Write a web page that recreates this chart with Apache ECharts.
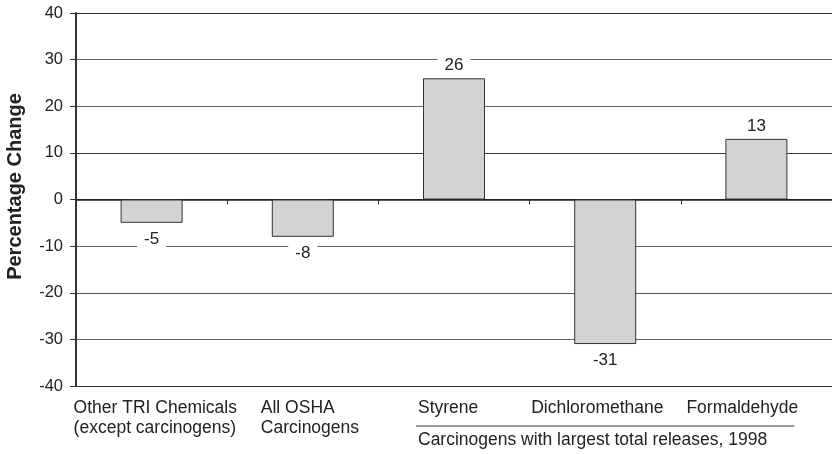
<!DOCTYPE html>
<html>
<head>
<meta charset="utf-8">
<script src="https://cdn.jsdelivr.net/npm/echarts@6/dist/echarts.min.js"></script>
<style>
  html, body { margin: 0; padding: 0; background: #fff; }
  #chart { width: 832px; height: 454px; }
</style>
</head>
<body>
<div id="chart"></div>
<script>
// Percentage change in releases, by chemical group
const categories = [
  'Other TRI Chemicals\n(except carcinogens)',
  'All OSHA\nCarcinogens',
  'Styrene',
  'Dichloromethane',
  'Formaldehyde'
];
const changes = [-5, -8, 26, -31, 13];
const yTicks = { min: -40, max: 40, step: 10 };
const axisTitle = 'Percentage Change';
const groupTitle = 'Carcinogens with largest total releases, 1998';
const groupMembers = ['Styrene', 'Dichloromethane', 'Formaldehyde'];

// horizontal shift of each category label's left edge from the category centre
const labelShift = [-78, -42, -36, -74, -70];

const FONT = '"Liberation Sans", Arial, Helvetica, sans-serif';
const INK = '#222';

const chart = echarts.init(document.getElementById('chart'), null, { renderer: 'canvas' });

chart.setOption({
  animation: false,
  backgroundColor: '#fff',
  textStyle: { fontFamily: FONT },
  grid: { left: 76, right: -4, top: 13, bottom: 68 },
  xAxis: {
    type: 'category',
    data: categories,
    axisLine: { onZero: true, lineStyle: { color: '#222', width: 1.5 } },
    axisTick: { show: true, length: 5, lineStyle: { color: '#333', width: 1 } },
    axisLabel: { show: false },
    splitLine: { show: false }
  },
  yAxis: {
    type: 'value',
    min: yTicks.min,
    max: yTicks.max,
    interval: yTicks.step,
    axisLine: { show: true, lineStyle: { color: '#333', width: 2 } },
    axisTick: { show: true, length: 6, lineStyle: { color: '#333', width: 1 } },
    axisLabel: { margin: 13, fontSize: 16.5, color: INK, fontFamily: FONT },
    splitLine: {
      show: true,
      lineStyle: {
        width: 1,
        color: ['#333', '#666', '#555', '#666', '#222', '#3a3a3a', '#666', '#666', '#333']
      }
    }
  },
  series: [{
    type: 'bar',
    barWidth: '41%',
    data: changes.map(v => ({
      value: v,
      label: { position: v < 0 ? 'bottom' : 'top', distance: v < 0 ? 7 : 4 }
    })),
    itemStyle: { color: '#d2d3d5', borderColor: '#333', borderWidth: 1 },
    label: {
      show: true,
      fontSize: 17,
      color: INK,
      fontFamily: FONT,
      backgroundColor: '#fff',
      padding: [1, 7, 0, 7],
      formatter: p => String(p.value)
    }
  }]
});

// category labels, group bracket and axis title
function drawLabels() {
  const bottomY = chart.convertToPixel({ yAxisIndex: 0 }, yTicks.min);
  const midY = chart.convertToPixel({ yAxisIndex: 0 }, 0);
  const els = [];
  categories.forEach((c, i) => {
    const cx = chart.convertToPixel({ xAxisIndex: 0 }, c);
    els.push({
      type: 'text',
      x: cx + labelShift[i],
      y: bottomY + 12,
      silent: true,
      style: {
        text: c, fontFamily: FONT, fontSize: 17.5, lineHeight: 20,
        fill: INK, align: 'left', verticalAlign: 'top'
      }
    });
  });

  // rule under the three largest-release carcinogens
  const firstIdx = categories.indexOf(groupMembers[0]);
  const lastIdx = categories.indexOf(groupMembers[groupMembers.length - 1]);
  const x0 = chart.convertToPixel({ xAxisIndex: 0 }, categories[firstIdx]) + labelShift[firstIdx] - 2;
  const x1 = chart.convertToPixel({ xAxisIndex: 0 }, categories[lastIdx]) + 38;
  els.push({
    type: 'line',
    silent: true,
    shape: { x1: x0, y1: bottomY + 40, x2: x1, y2: bottomY + 40 },
    style: { stroke: '#333', lineWidth: 1 }
  });
  els.push({
    type: 'text',
    x: x0 + 2,
    y: bottomY + 44,
    silent: true,
    style: {
      text: groupTitle, fontFamily: FONT, fontSize: 17.5, lineHeight: 20,
      fill: INK, align: 'left', verticalAlign: 'top'
    }
  });

  els.push({
    type: 'text',
    x: 15,
    y: midY - 13,
    rotation: Math.PI / 2,
    silent: true,
    style: {
      text: axisTitle, fontFamily: FONT, fontSize: 20, fontWeight: 'bold',
      fill: INK, align: 'center', verticalAlign: 'middle'
    }
  });

  chart.setOption({ graphic: { elements: els } });
}
drawLabels();
</script>
</body>
</html>
